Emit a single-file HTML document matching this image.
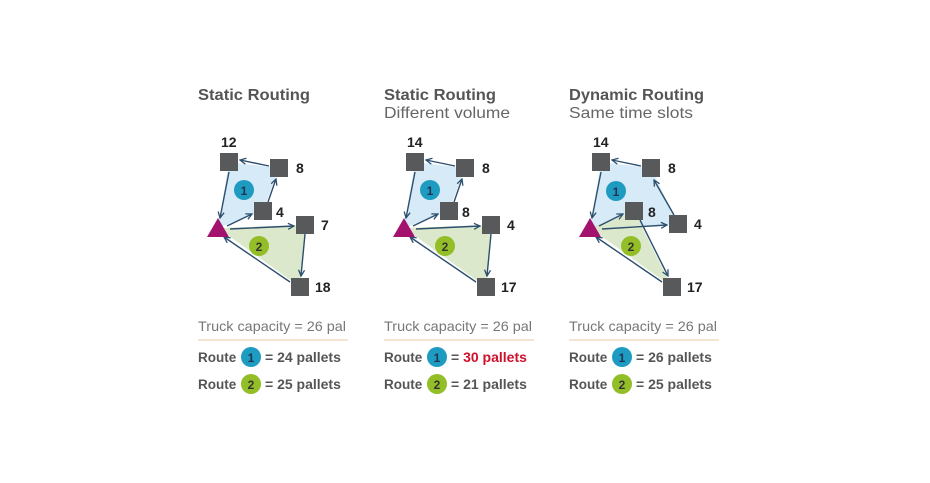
<!DOCTYPE html>
<html><head><style>
body{margin:0;background:#fff;width:930px;height:478px;overflow:hidden;font-family:"Liberation Sans",sans-serif}
</style></head><body>
<svg width="930" height="478" xmlns="http://www.w3.org/2000/svg" font-family="Liberation Sans, sans-serif">
<defs>
<marker id="a" markerWidth="8" markerHeight="8" refX="7" refY="4" orient="auto" markerUnits="userSpaceOnUse"><path d="M1,1 L7,4 L1,7" fill="none" stroke="#2d4f6e" stroke-width="1.3"/></marker>
<g id="leg">
<text x="0" y="331" font-size="14" fill="#777" textLength="148" lengthAdjust="spacingAndGlyphs">Truck capacity = 26 pal</text>
<line x1="0" y1="340" x2="150" y2="340" stroke="#f1dcc0" stroke-width="1.5"/>
<text x="0" y="362" font-size="13.5" font-weight="bold" fill="#555">Route</text>
<circle cx="53" cy="357" r="10" fill="#1e9bc0"/><text x="53" y="362" font-size="12" font-weight="bold" fill="#235" text-anchor="middle">1</text>
<text x="0" y="389" font-size="13.5" font-weight="bold" fill="#555">Route</text>
<circle cx="53" cy="384" r="10" fill="#93be27"/><text x="53" y="389" font-size="12" font-weight="bold" fill="#333" text-anchor="middle">2</text>
</g>
<g id="p12">
<polygon points="218,228 229,162 279,168 263,211" fill="#d6eaf7"/>
<polygon points="218,228 305,225 300,287" fill="#dbe8cc"/>
<g stroke="#2d4f6e" stroke-width="1.4" marker-end="url(#a)">
<line x1="229" y1="172" x2="220" y2="218"/>
<line x1="227" y1="226" x2="252" y2="214"/>
<line x1="268" y1="202" x2="276" y2="179"/>
<line x1="269" y1="166" x2="240" y2="160"/>
<line x1="230" y1="229" x2="294" y2="226"/>
<line x1="305" y1="234" x2="301" y2="276"/>
<line x1="290" y1="282" x2="224" y2="237"/>
</g>
<g fill="#58595b"><rect x="220" y="153" width="18" height="18"/><rect x="270" y="159" width="18" height="18"/><rect x="254" y="202" width="18" height="18"/><rect x="296" y="216" width="18" height="18"/><rect x="291" y="278" width="18" height="18"/></g>
<polygon points="218,218 207,237 229,237" fill="#a3136e"/>
<circle cx="244" cy="190" r="10" fill="#1e9bc0"/><text x="244" y="195" font-size="12" font-weight="bold" fill="#235" text-anchor="middle">1</text>
<circle cx="259" cy="246" r="10" fill="#93be27"/><text x="259" y="251" font-size="12" font-weight="bold" fill="#333" text-anchor="middle">2</text>
</g>
</defs>

<text x="198" y="100" font-size="16" font-weight="bold" fill="#555" textLength="112" lengthAdjust="spacingAndGlyphs">Static Routing</text>
<text x="384" y="100" font-size="16" font-weight="bold" fill="#555" textLength="112" lengthAdjust="spacingAndGlyphs">Static Routing</text>
<text x="384" y="118" font-size="16" fill="#666" textLength="126" lengthAdjust="spacingAndGlyphs">Different volume</text>
<text x="569" y="100" font-size="16" font-weight="bold" fill="#555" textLength="135" lengthAdjust="spacingAndGlyphs">Dynamic Routing</text>
<text x="569" y="118" font-size="16" fill="#666" textLength="124" lengthAdjust="spacingAndGlyphs">Same time slots</text>

<use href="#p12"/>
<g font-size="14" font-weight="bold" fill="#222"><text x="221" y="147">12</text><text x="296" y="173">8</text><text x="276" y="217">4</text><text x="321" y="230">7</text><text x="315" y="292">18</text></g>

<use href="#p12" transform="translate(186,0)"/>
<g font-size="14" font-weight="bold" fill="#222"><text x="407" y="147">14</text><text x="482" y="173">8</text><text x="462" y="217">8</text><text x="507" y="230">4</text><text x="501" y="292">17</text></g>

<g>
<polygon points="590,228 601,162 651,168 678,224" fill="#d6eaf7"/>
<polygon points="590,228 634,211 672,287" fill="#dbe8cc"/>
<g stroke="#2d4f6e" stroke-width="1.4" marker-end="url(#a)">
<line x1="601" y1="172" x2="592" y2="218"/>
<line x1="599" y1="226" x2="623" y2="214"/>
<line x1="640" y1="220" x2="668" y2="276"/>
<line x1="662" y1="282" x2="596" y2="237"/>
<line x1="602" y1="229" x2="667" y2="225"/>
<line x1="674" y1="215" x2="654" y2="180"/>
<line x1="641" y1="166" x2="612" y2="160"/>
</g>
<g fill="#58595b"><rect x="592" y="153" width="18" height="18"/><rect x="642" y="159" width="18" height="18"/><rect x="625" y="202" width="18" height="18"/><rect x="669" y="215" width="18" height="18"/><rect x="663" y="278" width="18" height="18"/></g>
<polygon points="590,218 579,237 601,237" fill="#a3136e"/>
<circle cx="616" cy="191" r="10" fill="#1e9bc0"/><text x="616" y="196" font-size="12" font-weight="bold" fill="#235" text-anchor="middle">1</text>
<circle cx="631" cy="246" r="10" fill="#93be27"/><text x="631" y="251" font-size="12" font-weight="bold" fill="#333" text-anchor="middle">2</text>
<g font-size="14" font-weight="bold" fill="#222"><text x="593" y="147">14</text><text x="668" y="173">8</text><text x="648" y="217">8</text><text x="694" y="229">4</text><text x="687" y="292">17</text></g>
</g>

<use href="#leg" transform="translate(198,0)"/>
<text x="265" y="362" font-size="14" font-weight="bold" fill="#555">= 24 pallets</text>
<text x="265" y="389" font-size="14" font-weight="bold" fill="#555">= 25 pallets</text>
<use href="#leg" transform="translate(384,0)"/>
<text x="451" y="362" font-size="14" font-weight="bold" fill="#555">= <tspan fill="#d0102a">30 pallets</tspan></text>
<text x="451" y="389" font-size="14" font-weight="bold" fill="#555">= 21 pallets</text>
<use href="#leg" transform="translate(569,0)"/>
<text x="636" y="362" font-size="14" font-weight="bold" fill="#555">= 26 pallets</text>
<text x="636" y="389" font-size="14" font-weight="bold" fill="#555">= 25 pallets</text>
</svg>
</body></html>
